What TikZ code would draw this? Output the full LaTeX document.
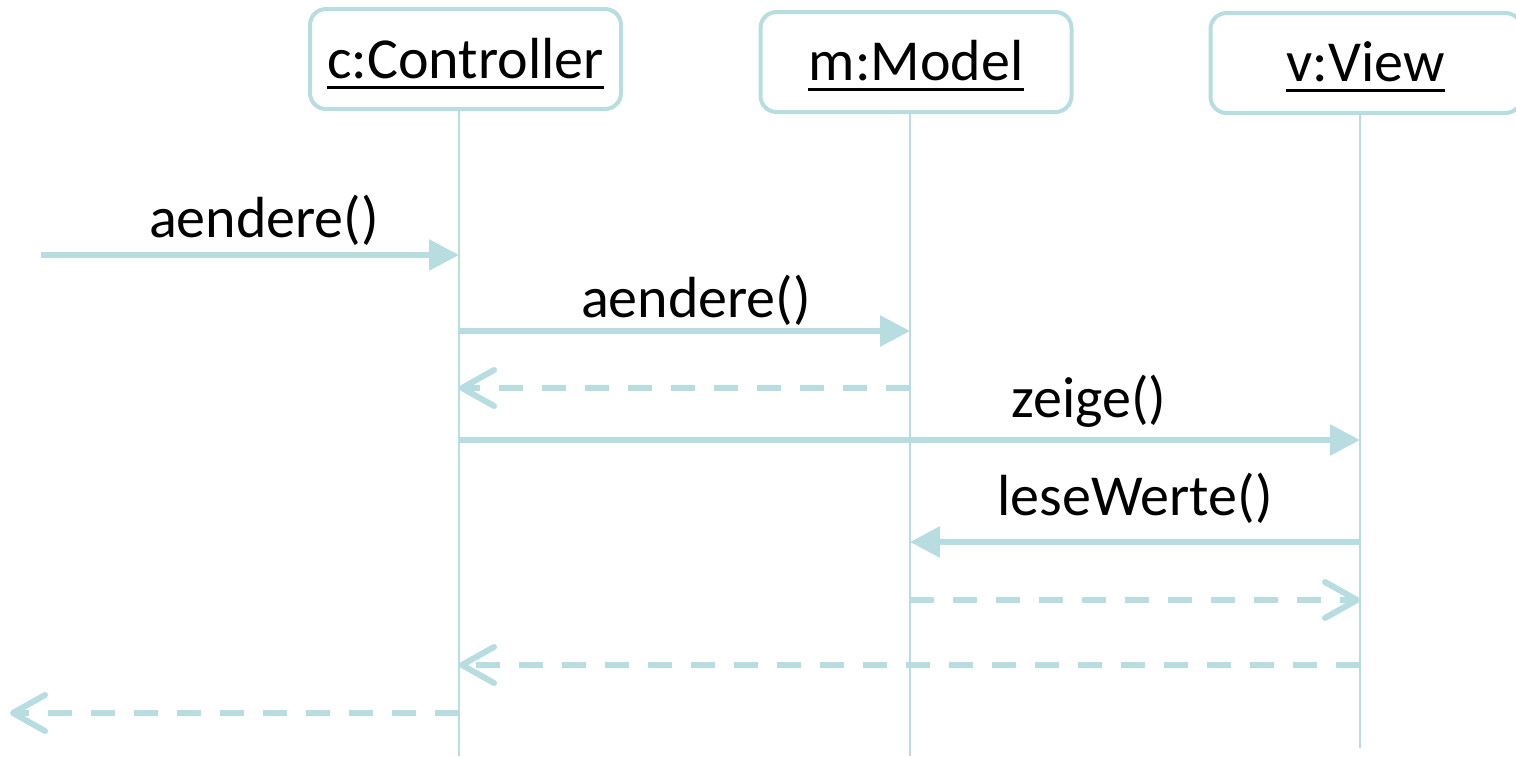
\documentclass[tikz,border=0pt]{standalone}
\usepackage{fontspec}
\setmainfont{Carlito}
\usetikzlibrary{arrows.meta}
\definecolor{uml}{RGB}{183,221,224}
\begin{document}
\begin{tikzpicture}[x=1pt,y=-1pt,
  obj/.style={draw=uml, line width=4pt, rounded corners=16pt, minimum width=311pt, minimum height=100pt, inner sep=0pt, fill=white},
  lbl/.style={font=\fontsize{58pt}{70pt}\selectfont, inner sep=0pt, anchor=base, text=black},
  life/.style={draw=uml, line width=2pt},
  call/.style={draw=uml, line width=6pt, -{Triangle[length=30pt,width=30pt]}},
  ret/.style={draw=uml, line width=6pt, dash pattern=on 24pt off 19pt, -{Straight Barb[length=32pt,width=36pt,round]}},
  uline/.style={draw=black, line width=3pt}]
\useasboundingbox (0,0) rectangle (1516,756);

% lifeline coordinates
\coordinate (ctop) at (459,110);
\coordinate (cbot) at (459,756);
\coordinate (mtop) at (910,111);
\coordinate (mbot) at (910,756);
\coordinate (vtop) at (1360,113);
\coordinate (vbot) at (1360,748);

\draw[life] (ctop) -- (cbot);
\draw[life] (mtop) -- (mbot);
\draw[life] (vtop) -- (vbot);

% object boxes
\node[obj] (cbox) at (465.5,59) {};
\node[obj] (mbox) at (916,62) {};
\node[obj] (vbox) at (1366,63) {};

\node[lbl] (ct) at (465.5,78) {c:Controller};
\node[lbl] (mt) at (916,80) {m:Model};
\node[lbl] (vt) at (1365.5,81) {v:View};
\draw[uline] ([yshift=-9pt]ct.base west) -- ([yshift=-9pt]ct.base east);
\draw[uline] ([yshift=-9pt]mt.base west) -- ([yshift=-9pt]mt.base east);
\draw[uline] ([yshift=-9pt]vt.base west) -- ([yshift=-9pt]vt.base east);

% message endpoints
\coordinate (s1) at (41,255);   \coordinate (c1) at (459,255);
\coordinate (c2) at (459,331);  \coordinate (m2) at (910,331);
\coordinate (m3) at (910,388);  \coordinate (c3) at (459,388);
\coordinate (c4) at (459,440);  \coordinate (v4) at (1360,440);
\coordinate (v5) at (1360,542); \coordinate (m5) at (910,542);
\coordinate (m6) at (910,600);  \coordinate (v6) at (1360,600);
\coordinate (v7) at (1360,665); \coordinate (c7) at (459,665);
\coordinate (c8) at (459,713);  \coordinate (e8) at (10,713);

\draw[call] (s1) -- (c1);
\draw[call] (c2) -- (m2);
\draw[ret]  (m3) -- (c3);
\draw[call] (c4) -- (v4);
\draw[call] (v5) -- (m5);
\draw[ret]  (m6) -- (v6);
\draw[ret]  (v7) -- (c7);
\draw[ret]  (c8) -- (e8);

% labels
\node[lbl] (l1) at (264,237) {aendere()};
\node[lbl] (l2) at (696,317) {aendere()};
\node[lbl] (l4) at (1089,417) {zeige()};
\node[lbl] (l5) at (1135,515) {leseWerte()};
\end{tikzpicture}
\end{document}
